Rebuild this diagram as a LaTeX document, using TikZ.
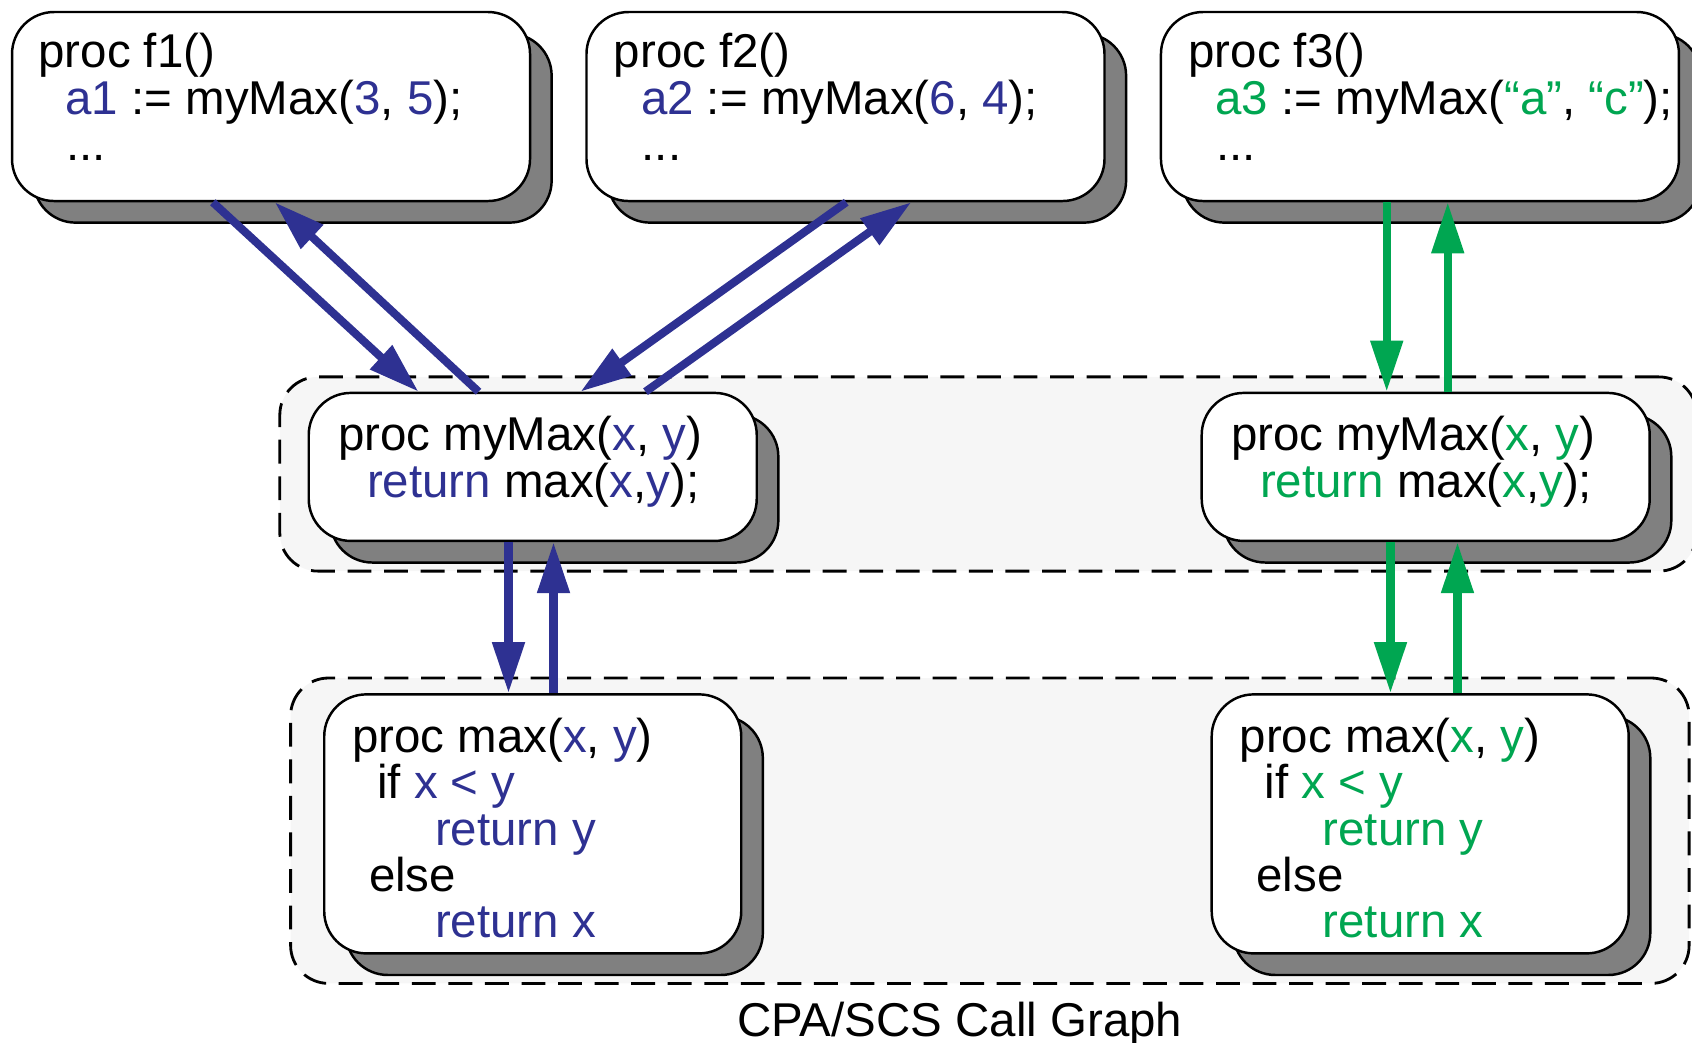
\documentclass[tikz,border=0pt]{standalone}
\usepackage{fontspec}
\setmainfont{Liberation Sans}
\usepackage{xcolor}
\usetikzlibrary{arrows.meta, positioning, shadows}

\definecolor{cpablue}{HTML}{2E3192}
\definecolor{cpagreen}{HTML}{00A651}
\definecolor{shadowgray}{HTML}{808080}
\definecolor{groupfill}{HTML}{F6F6F6}

\newcommand{\codefont}{\fontsize{13.5pt}{13.2pt}\selectfont}
\newcommand{\blu}[1]{\textcolor{cpablue}{#1}}
\newcommand{\grn}[1]{\textcolor{cpagreen}{#1}}

\begin{document}
\begin{tikzpicture}[
    every node/.style={color=black, font=\codefont},
    procbox/.style={draw=black, line width=0.7pt, fill=white, inner sep=0pt,
                    rounded corners=0.42cm,
                    general shadow={shadow xshift=0.216cm, shadow yshift=-0.216cm,
                                    fill=shadowgray, draw=black, line width=0.7pt}},
    callerbox/.style={procbox, minimum width=5.18cm, minimum height=1.89cm},
    wrapbox/.style={procbox, minimum width=4.48cm, minimum height=1.48cm},
    calleebox/.style={procbox, minimum width=4.17cm, minimum height=2.59cm},
    group/.style={draw=black, line width=0.8pt, dash pattern=on 6.8pt off 3.6pt,
                  fill=groupfill, rounded corners=0.38cm, inner sep=0pt},
    code/.style={align=left, inner sep=0pt, anchor=north west},
    callb/.style={-{Triangle[length=5.1mm, width=3.1mm]}, line width=2.3pt, draw=cpablue},
    callg/.style={-{Triangle[length=5.1mm, width=3.1mm]}, line width=2.3pt, draw=cpagreen}
]
\useasboundingbox (0,0) rectangle (16.92,-10.43);

% =========================================================
% call graph groups (dashed)
% =========================================================
\node[group, minimum width=14.17cm, minimum height=1.942cm, anchor=north west]
    (grp1) at (2.784,-3.755) {};
\node[group, minimum width=13.985cm, minimum height=3.054cm, anchor=north west]
    (grp2) at (2.892,-6.766) {};

% =========================================================
% callers f1, f2, f3
% =========================================================
\node[callerbox, anchor=north west] (f1) at (0.108,-0.108) {};
\node[callerbox, right=0.54cm of f1] (f2) {};
\node[callerbox, right=0.54cm of f2] (f3) {};

\node[code] (f1code) at ([shift={(0.27,-0.22)}]f1.north west)
    {proc f1()\\\hspace*{7.7pt}\blu{a1} := myMax(\blu{3}, \blu{5});\\\hspace*{7.9pt}...};
\node[code] (f2code) at ([shift={(0.28,-0.22)}]f2.north west)
    {proc f2()\\\hspace*{7.7pt}\blu{a2} := myMax(\blu{6}, \blu{4});\\\hspace*{7.9pt}...};
\node[code] (f3code) at ([shift={(0.28,-0.22)}]f3.north west)
    {proc f3()\\\hspace*{7.7pt}\grn{a3} := myMax(\grn{“a”}, \grn{“c”});\\\hspace*{7.9pt}...};

% =========================================================
% myMax copies
% =========================================================
\node[wrapbox, anchor=north west] (mymaxL) at (3.075,-3.917) {};
\node[wrapbox, right=4.425cm of mymaxL] (mymaxR) {};

\node[code] (mymaxLcode) at ([shift={(0.30,-0.24)}]mymaxL.north west)
    {proc myMax(\blu{x}, \blu{y})\\\hspace*{8.2pt}\blu{return} max(\blu{x},\blu{y});};
\node[code] (mymaxRcode) at ([shift={(0.30,-0.24)}]mymaxR.north west)
    {proc myMax(\grn{x}, \grn{y})\\\hspace*{8.2pt}\grn{return} max(\grn{x},\grn{y});};

% =========================================================
% max copies
% =========================================================
\node[calleebox, below=1.51cm of mymaxL] (maxL) {};
\node[calleebox, below=1.51cm of mymaxR, xshift=-0.055cm] (maxR) {};

\node[code] (maxLcode) at ([shift={(0.285,-0.24)}]maxL.north west)
    {proc max(\blu{x}, \blu{y})\\
     \hspace*{7.1pt}if \blu{x < y}\\
     \hspace*{23.6pt}\blu{return y}\\
     \hspace*{4.8pt}else\\
     \hspace*{23.6pt}\blu{return x}};
\node[code] (maxRcode) at ([shift={(0.285,-0.24)}]maxR.north west)
    {proc max(\grn{x}, \grn{y})\\
     \hspace*{7.1pt}if \grn{x < y}\\
     \hspace*{23.6pt}\grn{return y}\\
     \hspace*{4.8pt}else\\
     \hspace*{23.6pt}\grn{return x}};

% caption
\node[inner sep=0pt, below=0.17cm of grp2, xshift=-0.3cm] (caption) {CPA/SCS Call Graph};

% =========================================================
% calls and returns
% =========================================================
% f1 / f2 <-> left myMax (diagonal)
\draw[callb] ([xshift=2.02cm]f1.south west) -- ([xshift=1.11cm]mymaxL.north west);
\draw[callb] ([xshift=1.71cm]mymaxL.north west) -- ([xshift=2.64cm]f1.south west);
\draw[callb] ([xshift=2.61cm]f2.south west) -- ([xshift=2.73cm]mymaxL.north west);
\draw[callb] ([xshift=3.38cm]mymaxL.north west) -- ([xshift=3.26cm]f2.south west);

% vertical lanes
\coordinate (f3call) at ([xshift=2.27cm]f3.south west);
\coordinate (f3ret)  at ([xshift=2.88cm]f3.south west);
\coordinate (mLcall) at ([xshift=2.01cm]mymaxL.south west);
\coordinate (mLret)  at ([xshift=2.46cm]mymaxL.south west);
\coordinate (mRcall) at ([xshift=1.90cm]mymaxR.south west);
\coordinate (mRret)  at ([xshift=2.57cm]mymaxR.south west);

\draw[callg] (f3call) -- (f3call |- mymaxR.north);
\draw[callg] (f3ret |- mymaxR.north) -- (f3ret);

\draw[callb] (mLcall) -- (mLcall |- maxL.north);
\draw[callb] (mLret |- maxL.north) -- (mLret);

\draw[callg] (mRcall) -- (mRcall |- maxR.north);
\draw[callg] (mRret |- maxR.north) -- (mRret);

\end{tikzpicture}
\end{document}
